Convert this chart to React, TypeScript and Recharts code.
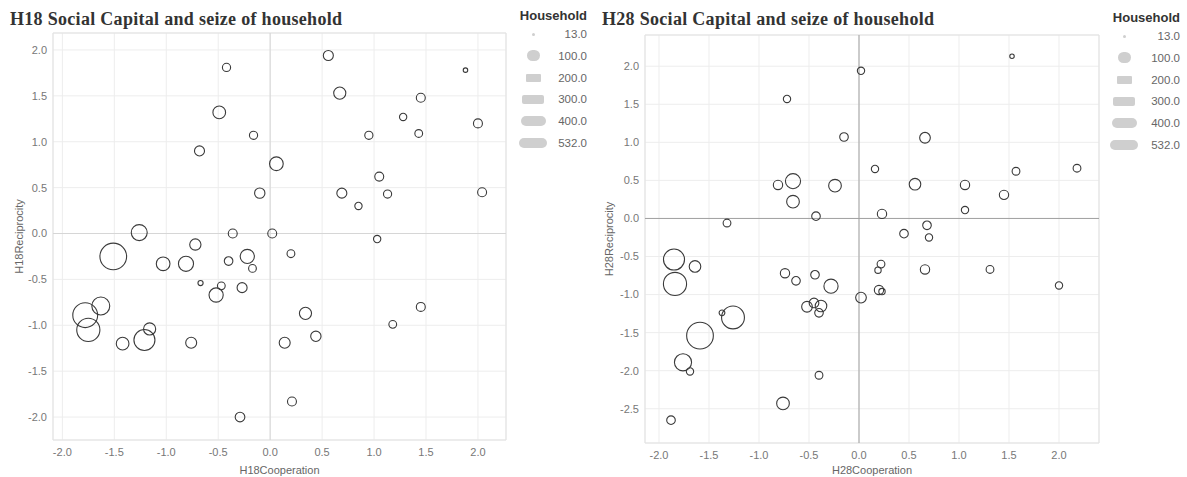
import { ScatterChart, Scatter, XAxis, YAxis, ZAxis, CartesianGrid, ReferenceLine, ReferenceArea } from 'recharts'

// H18 survey
const h18Coop = [-0.42, 0.56, 1.88, 0.67, 1.45, -0.49, 1.28, 2.0, -0.16, 0.95, 1.43, -0.68, 0.06, 1.05, -0.1, 0.69, 1.13, 2.04, 0.85, -1.26, -0.36, 0.02, 1.03, -0.72, -1.51, 0.2, -0.22, -1.03, -0.81, -0.4, -0.17, -0.67, -0.47, -0.27, -0.52, -1.63, -1.78, -1.75, 0.34, 1.45, 1.18, -1.16, -1.21, -1.42, -0.76, 0.14, 0.44, 0.21, -0.29]
const h18Recip = [1.81, 1.94, 1.78, 1.53, 1.48, 1.32, 1.27, 1.2, 1.07, 1.07, 1.09, 0.9, 0.76, 0.62, 0.44, 0.44, 0.43, 0.45, 0.3, 0.01, 0.0, 0.0, -0.06, -0.12, -0.25, -0.22, -0.25, -0.33, -0.33, -0.3, -0.38, -0.54, -0.57, -0.59, -0.67, -0.79, -0.89, -1.05, -0.87, -0.8, -0.99, -1.04, -1.16, -1.2, -1.19, -1.19, -1.12, -1.83, -2.0]
const h18Household = [50, 75, 15, 110, 60, 120, 40, 60, 50, 50, 45, 75, 140, 60, 80, 75, 50, 60, 40, 190, 60, 60, 40, 95, 532, 45, 150, 140, 170, 55, 45, 20, 45, 75, 150, 240, 460, 400, 110, 60, 45, 110, 330, 120, 90, 90, 80, 60, 70]

// H28 survey
const h28Coop = [1.53, 0.02, -0.72, -0.15, 0.66, 0.16, 1.57, 2.18, -0.81, -0.66, -0.24, 0.56, 1.06, 1.45, -0.66, -0.43, 0.23, 1.06, -1.32, 0.68, 0.45, 0.7, -1.85, -1.64, -1.84, 0.22, 0.19, 0.66, 1.31, -0.74, -0.63, -0.44, -0.28, 2.0, 0.2, 0.23, 0.02, -0.52, -0.45, -0.38, -0.4, -1.26, -1.37, -1.59, -1.76, -1.69, -0.4, -0.76, -1.88]
const h28Recip = [2.13, 1.94, 1.57, 1.07, 1.06, 0.65, 0.62, 0.66, 0.44, 0.49, 0.43, 0.45, 0.44, 0.31, 0.22, 0.03, 0.06, 0.11, -0.06, -0.09, -0.2, -0.25, -0.54, -0.63, -0.86, -0.6, -0.68, -0.67, -0.67, -0.72, -0.82, -0.74, -0.89, -0.88, -0.94, -0.96, -1.04, -1.16, -1.11, -1.15, -1.24, -1.3, -1.24, -1.54, -1.89, -2.01, -2.06, -2.43, -2.65]
const h28Household = [15, 40, 40, 55, 85, 40, 45, 45, 65, 170, 120, 100, 65, 65, 120, 55, 65, 40, 45, 55, 55, 40, 330, 100, 400, 45, 30, 65, 45, 65, 55, 55, 150, 40, 65, 30, 85, 85, 70, 100, 55, 390, 25, 532, 220, 40, 45, 120, 55]

const xTicks = [-2, -1.5, -1, -0.5, 0, 0.5, 1, 1.5, 2]
const h18YTicks = [-2, -1.5, -1, -0.5, 0, 0.5, 1, 1.5, 2]
const h28YTicks = [-2.5, -2, -1.5, -1, -0.5, 0, 0.5, 1, 1.5, 2]
const legendValues = [13, 100, 200, 300, 400, 532]

const SANS = '"Liberation Sans", Arial, sans-serif'
const SERIF = '"Liberation Serif", "Times New Roman", serif'

function zip(xs: number[], ys: number[], ss: number[]) {
  return xs.map((x, i) => ({ x, y: ys[i], size: ss[i] }))
}

const fmt = (v: number) => v.toFixed(1)

// legend glyph dimensions (w, h, radius)
const glyphs = [
  [3, 3, 2],
  [13, 11, 6],
  [15, 8, 1],
  [22, 9, 2],
  [25, 10, 5],
  [28, 10, 5],
]

function SizeLegend({ left, right, top, glyphX }: { left: number; right: number; top: number; glyphX: number }) {
  return (
    <div style={{ position: 'absolute', left, top, width: right - left, fontFamily: SANS }}>
      <div style={{ textAlign: 'right', fontWeight: 'bold', fontSize: 13, color: '#333', lineHeight: '15px' }}>Household</div>
      {legendValues.map((v, i) => (
        <div key={v} style={{ position: 'relative', height: 21.8 }}>
          <div
            style={{
              position: 'absolute',
              left: glyphX - glyphs[i][0] / 2,
              top: 11 - glyphs[i][1] / 2,
              width: glyphs[i][0],
              height: glyphs[i][1],
              borderRadius: glyphs[i][2],
              background: '#cfcfcf',
            }}
          />
          <div style={{ position: 'absolute', right: 0, top: 4, fontSize: 11.5, color: '#666', lineHeight: '14px' }}>{fmt(v)}</div>
        </div>
      ))}
    </div>
  )
}

interface PanelProps {
  left: number
  width: number
  title: string
  xName: string
  yName: string
  data: { x: number; y: number; size: number }[]
  xDomain: [number, number]
  yDomain: [number, number]
  yTicks: number[]
  margin: { top: number; right: number; bottom: number; left: number }
  yAxisWidth: number
  xAxisHeight: number
  yTitleX: number
  zeroColor: string
}

function Panel(p: PanelProps) {
  return (
    <div style={{ position: 'absolute', left: p.left, top: 0, width: p.width, height: 477 }}>
      <div
        style={{
          position: 'absolute',
          left: p.left === 0 ? 10 : 12,
          top: 10,
          fontFamily: SERIF,
          fontWeight: 'bold',
          fontSize: 18,
          letterSpacing: 0.3,
          lineHeight: '18px',
          color: '#333',
          whiteSpace: 'nowrap',
        }}
      >
        {p.title}
      </div>
      <ScatterChart width={p.width} height={477} margin={p.margin}>
        <CartesianGrid stroke="#ededed" />
        <ReferenceArea x1={p.xDomain[0]} x2={p.xDomain[1]} y1={p.yDomain[0]} y2={p.yDomain[1]} fill="none" stroke="#e2e2e2" />
        <XAxis
          type="number"
          dataKey="x"
          domain={p.xDomain}
          ticks={xTicks}
          allowDataOverflow
          tickFormatter={fmt}
          axisLine={false}
          tickLine={false}
          height={p.xAxisHeight}
          tick={{ fontSize: 11, fill: '#777', fontFamily: SANS }}
          label={{ value: p.xName, position: 'insideBottom', offset: 0, fontSize: 11, fill: '#666', fontFamily: SANS }}
        />
        <YAxis
          type="number"
          dataKey="y"
          domain={p.yDomain}
          ticks={p.yTicks}
          allowDataOverflow
          tickFormatter={fmt}
          axisLine={false}
          tickLine={false}
          width={p.yAxisWidth}
          tickMargin={0}
          tick={{ fontSize: 11, fill: '#777', fontFamily: SANS }}
          label={{
            content: (lp: any) => {
              const vb = lp.viewBox || { x: 0, y: 0, height: 0 }
              const cx = vb.x + p.yTitleX
              const cy = vb.y + vb.height / 2
              return (
                <text x={cx} y={cy} transform={`rotate(-90 ${cx} ${cy})`} textAnchor="middle" dominantBaseline="central" fontSize={11} fill="#666" fontFamily={SANS}>
                  {p.yName}
                </text>
              )
            },
          }}
        />
        <ZAxis type="number" dataKey="size" domain={[0, 532]} range={[0, 560]} />
        <ReferenceLine x={0} stroke={p.zeroColor} />
        <ReferenceLine y={0} stroke={p.zeroColor} />
        <Scatter data={p.data} shape="circle" fill="none" stroke="#3a3a3a" strokeWidth={1.1} isAnimationActive={false} />
      </ScatterChart>
    </div>
  )
}

export default function App() {
  return (
    <div style={{ position: 'absolute', left: 0, top: 0, width: 1187, height: 477, background: '#fff', overflow: 'hidden' }}>
      <Panel
        left={0}
        width={590}
        title="H18 Social Capital and seize of household"
        xName="H18Cooperation"
        yName="H18Reciprocity"
        data={zip(h18Coop, h18Recip, h18Household)}
        xDomain={[-2.09, 2.27]}
        yDomain={[-2.25, 2.185]}
        yTicks={h18YTicks}
        margin={{ top: 33, right: 84, bottom: 3, left: 0 }}
        yAxisWidth={53}
        xAxisHeight={34}
        yTitleX={19}
        zeroColor="#d6d6d6"
      />
      <SizeLegend left={505} right={587} top={8} glyphX={28} />
      <Panel
        left={590}
        width={597}
        title="H28 Social Capital and seize of household"
        xName="H28Cooperation"
        yName="H28Reciprocity"
        data={zip(h28Coop, h28Recip, h28Household)}
        xDomain={[-2.14, 2.4]}
        yDomain={[-2.95, 2.41]}
        yTicks={h28YTicks}
        margin={{ top: 35, right: 88, bottom: 3, left: 0 }}
        yAxisWidth={55}
        xAxisHeight={31}
        yTitleX={19}
        zeroColor="#a0a0a0"
      />
      <SizeLegend left={1100} right={1180} top={10} glyphX={24} />
    </div>
  )
}
